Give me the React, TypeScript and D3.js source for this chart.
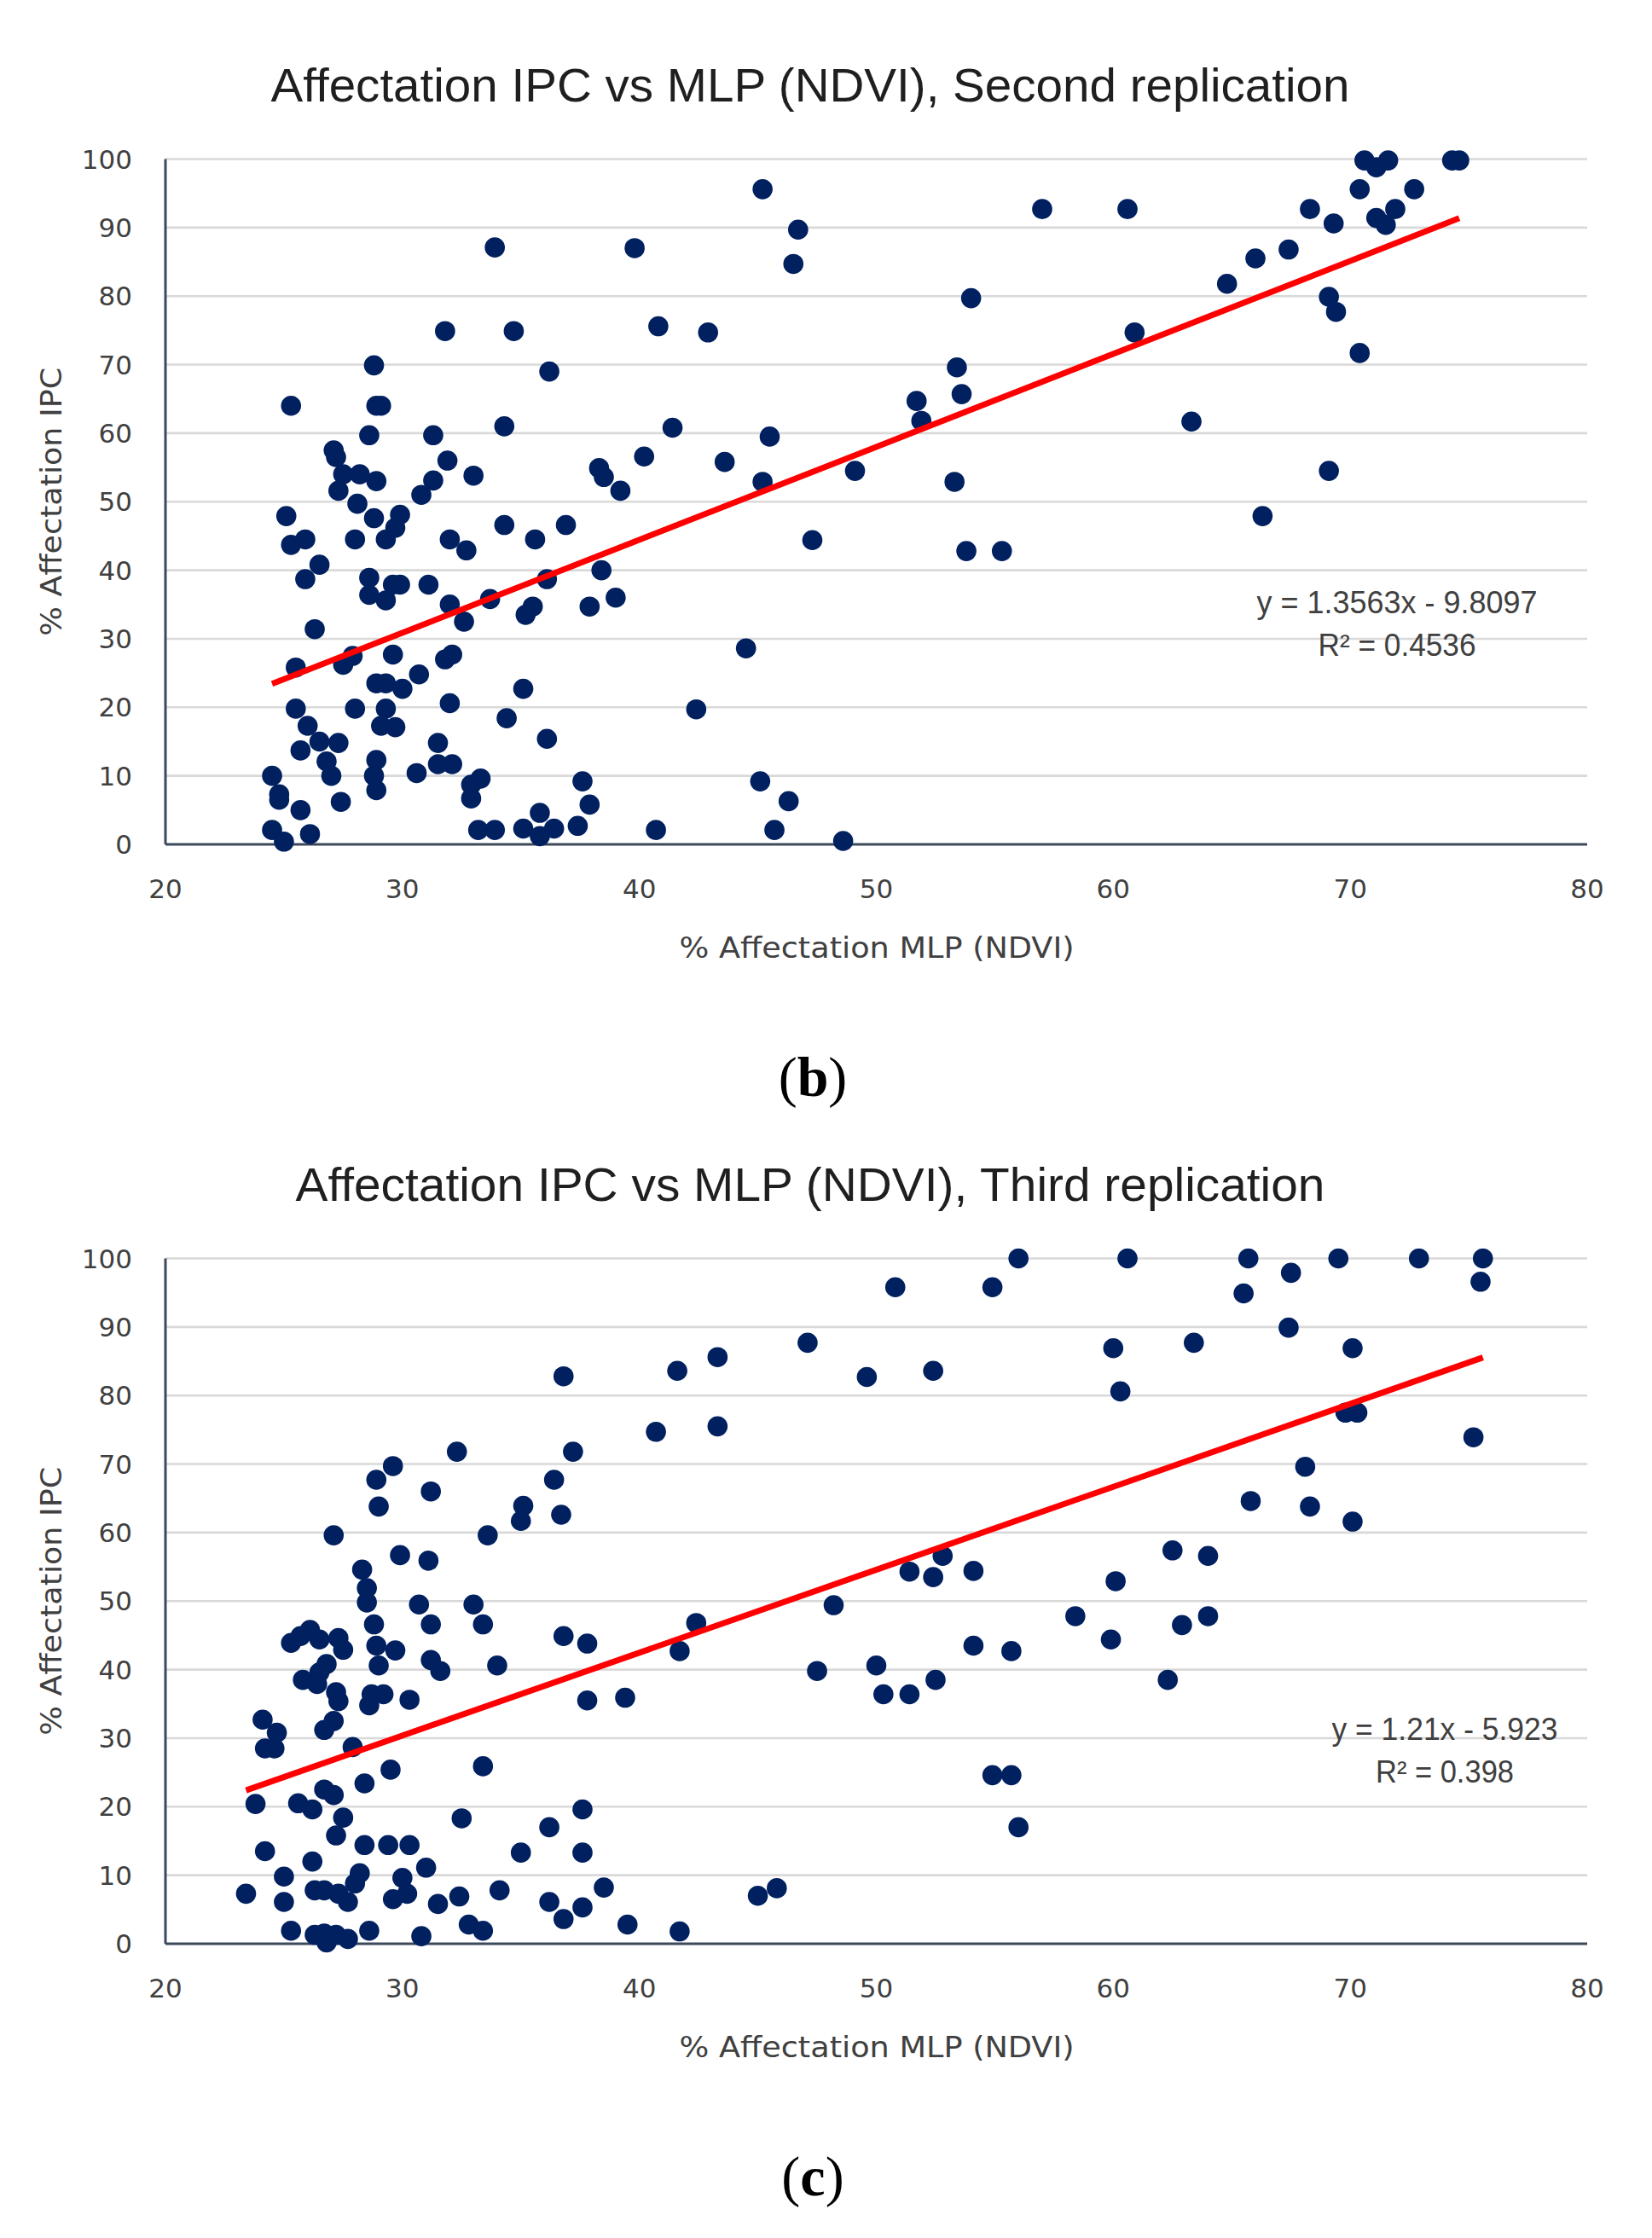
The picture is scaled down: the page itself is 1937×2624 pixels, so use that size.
import React from "react"
import * as d3 from "d3"

// % Affectation MLP (NDVI) , % Affectation IPC
const secondReplication: [number, number][] = [
  [33.9, 87.1], [39.8, 87.0], [31.8, 74.9], [34.7, 74.9], [28.8, 69.9], [36.2, 69.0],
  [25.3, 64.0], [28.9, 64.0], [29.1, 64.0], [34.3, 61.0], [28.6, 59.7], [31.3, 59.7],
  [27.1, 57.5], [27.2, 56.5], [31.9, 56.0], [33.0, 53.8], [38.3, 54.9], [38.5, 53.6],
  [39.2, 51.6], [27.5, 54.0], [28.2, 54.0], [28.9, 53.0], [27.3, 51.6], [31.3, 53.1],
  [30.8, 51.0], [40.2, 56.6],
  [25.1, 47.9], [28.1, 49.7], [28.8, 47.6], [29.9, 48.1], [29.7, 46.2], [29.3, 44.5],
  [28.0, 44.5], [25.9, 44.5], [25.3, 43.7], [32.0, 44.5], [32.7, 42.9], [34.3, 46.6],
  [35.6, 44.5], [36.9, 46.6], [26.5, 40.8], [25.9, 38.7], [28.6, 38.9], [28.6, 36.4],
  [29.3, 35.6], [29.9, 37.9], [29.6, 37.9], [31.1, 37.9], [32.0, 35.0], [32.6, 32.5],
  [33.7, 35.8], [36.1, 38.7], [35.5, 34.7], [35.2, 33.5], [38.4, 40.0], [37.9, 34.7],
  [39.0, 36.0], [26.3, 31.4], [25.5, 25.8], [27.5, 26.2], [27.9, 27.5], [29.6, 27.7],
  [31.8, 27.0], [32.1, 27.7], [28.9, 23.5], [29.3, 23.5], [30.0, 22.7], [30.7, 24.8],
  [35.1, 22.7], [25.5, 19.8], [28.0, 19.8], [29.3, 19.8], [32.0, 20.6], [26.0, 17.3],
  [29.1, 17.3], [29.7, 17.1], [34.4, 18.4], [36.1, 15.4], [27.3, 14.8], [26.5, 15.0],
  [25.7, 13.7], [31.5, 14.8], [26.8, 12.1], [28.9, 12.3], [31.5, 11.7], [32.1, 11.7],
  [27.0, 10.0], [28.8, 10.0], [30.6, 10.4], [24.5, 10.0], [33.3, 9.6], [32.9, 8.7],
  [37.6, 9.2], [24.8, 7.3], [24.8, 6.5], [28.9, 7.9], [32.9, 6.7], [27.4, 6.2],
  [25.7, 5.0], [37.9, 5.8], [35.8, 4.6], [24.5, 2.1], [25.0, 0.4], [26.1, 1.5],
  [33.2, 2.1], [33.9, 2.1], [35.1, 2.3], [36.4, 2.3], [35.8, 1.2], [37.4, 2.7],
  [40.8, 75.6], [42.9, 74.7], [41.4, 60.8], [45.5, 59.5], [43.6, 55.8], [45.2, 52.9],
  [49.1, 54.5], [53.3, 52.9], [47.3, 44.4], [53.8, 42.8], [55.3, 42.8], [44.5, 28.6],
  [42.4, 19.7], [45.1, 9.2], [46.3, 6.3], [40.7, 2.1], [45.7, 2.1], [48.6, 0.5],
  [45.2, 95.6], [46.7, 89.7], [46.5, 84.7], [57.0, 92.7], [60.6, 92.7], [54.0, 79.7],
  [53.4, 69.6], [53.6, 65.7], [51.7, 64.7], [51.9, 61.8], [63.3, 61.7], [60.9, 74.7],
  [64.8, 81.8], [66.0, 85.5], [67.4, 86.8], [68.3, 92.7], [69.3, 90.6], [70.4, 95.6],
  [72.7, 95.6], [70.6, 99.8], [71.1, 98.8], [71.6, 99.8], [74.3, 99.8], [74.6, 99.8],
  [71.1, 91.4], [71.5, 90.4], [71.9, 92.7], [69.1, 79.9], [69.4, 77.7], [70.4, 71.7],
  [69.1, 54.5], [66.3, 47.9],
]

const thirdReplication: [number, number][] = [
  [36.8, 82.8], [37.2, 71.8], [32.3, 71.8], [29.6, 69.7], [28.9, 67.7], [31.2, 66.0],
  [29.0, 63.8], [36.4, 67.7], [35.1, 63.9], [35.0, 61.7], [36.7, 62.6], [27.1, 59.6],
  [33.6, 59.6], [29.9, 56.7], [31.1, 55.9], [28.3, 54.6], [28.5, 51.9],
  [28.5, 49.8], [30.7, 49.5], [33.0, 49.5], [28.8, 46.6], [31.2, 46.6], [33.4, 46.6],
  [26.1, 45.8], [25.3, 43.9], [25.7, 44.9], [26.5, 44.4], [27.3, 44.6], [27.5, 42.9],
  [28.9, 43.5], [29.7, 42.8], [34.0, 40.6], [31.2, 41.4], [31.6, 39.8], [36.8, 44.9],
  [37.8, 43.8], [29.0, 40.6], [26.8, 40.8], [26.5, 39.6], [25.8, 38.5], [26.4, 37.9],
  [27.2, 36.7], [27.3, 35.4], [28.7, 36.4], [29.2, 36.4], [28.6, 34.8], [30.3, 35.6],
  [37.8, 35.5], [39.4, 35.9], [24.1, 32.7], [24.7, 30.8], [24.6, 28.5], [24.2, 28.5],
  [27.1, 32.5], [26.7, 31.2], [27.9, 28.7], [29.5, 25.4], [33.4, 25.9], [28.4, 23.4],
  [26.7, 22.5], [27.1, 21.7], [23.8, 20.4], [25.6, 20.5], [26.2, 19.6], [27.5, 18.4],
  [32.5, 18.3], [37.6, 19.6], [36.2, 17.0], [27.2, 15.8], [28.4, 14.4], [29.4, 14.4],
  [30.3, 14.4], [35.0, 13.3], [37.6, 13.3], [24.2, 13.5], [26.2, 12.0], [31.0, 11.1],
  [25.0, 9.8], [28.2, 10.3], [30.0, 9.6], [28.0, 8.8], [23.4, 7.3], [26.3, 7.8],
  [26.7, 7.8], [27.3, 7.3], [27.7, 6.1], [30.2, 7.3], [29.6, 6.5], [25.0, 6.1],
  [31.5, 5.8], [32.4, 6.9], [34.1, 7.8], [38.5, 8.2], [36.2, 6.1], [37.6, 5.3],
  [36.8, 3.6], [39.5, 2.8], [25.3, 1.9], [26.3, 1.3], [26.7, 1.5], [27.2, 1.3],
  [27.7, 0.7], [26.8, 0.2], [28.6, 1.9], [30.8, 1.1], [32.8, 2.8], [33.4, 1.9],
  [56.0, 100], [60.6, 100], [65.7, 100], [69.5, 100], [72.9, 100], [75.6, 100],
  [75.5, 96.6], [67.5, 97.9], [65.5, 94.9], [50.8, 95.8], [54.9, 95.8], [67.4, 89.9],
  [63.4, 87.7], [60.0, 86.9], [70.1, 86.9], [60.3, 80.6], [47.1, 87.7], [43.3, 85.6],
  [41.6, 83.6], [49.6, 82.7], [52.4, 83.6], [40.7, 74.7], [43.3, 75.5], [69.8, 77.5],
  [70.3, 77.5], [75.2, 73.9], [68.1, 69.6], [65.8, 64.6], [68.3, 63.8], [70.1, 61.6],
  [62.5, 57.4], [64.0, 56.6], [52.8, 56.6], [51.4, 54.3], [52.4, 53.5], [54.1, 54.4],
  [60.1, 52.9], [48.2, 49.4], [58.4, 47.8], [64.0, 47.8], [62.9, 46.5], [42.4, 46.8],
  [41.7, 42.7], [59.9, 44.4], [54.1, 43.5], [55.7, 42.7], [47.5, 39.8], [50.0, 40.6],
  [50.3, 36.4], [51.4, 36.4], [52.5, 38.5], [62.3, 38.5], [54.9, 24.6], [55.7, 24.6],
  [56.0, 17.0], [45.0, 7.0], [45.8, 8.1], [41.7, 1.8],
]

const xTicks = [20, 30, 40, 50, 60, 70, 80]
const yTicks = [0, 10, 20, 30, 40, 50, 60, 70, 80, 90, 100]

const dotColor = "#002060"
const gridColor = "#d9d9d9"
const axisColor = "#3d4a5c"
const labelColor = "#404040"
const tickFont = "DejaVu Sans, Verdana, sans-serif"
const narrowFont = "Liberation Sans Narrow, Liberation Sans, Arial, sans-serif"

interface PanelProps {
  top: number
  title: string
  titleWidth: number
  points: [number, number][]
  slope: number
  intercept: number
  equation: string
  r2: string
  eq: { x: number; y: number; w: number; r2w: number }
  letter: string
}

const Panel: React.FC<PanelProps> = ({ top, title, titleWidth, points, slope, intercept, equation, r2, eq, letter }) => {
  const plotH = 803.5
  const bottom = top + plotH
  const x = d3.scaleLinear().domain([20, 80]).range([194, 1861])
  const y = d3.scaleLinear().domain([0, 100]).range([bottom, top])

  const [xMin, xMax] = d3.extent(points, p => p[0]) as [number, number]
  const trend = d3.line<number>()
    .x(v => x(v))
    .y(v => y(slope * v + intercept))

  return (
    <g>
      <text x={950} y={top - 68} textAnchor="middle" fontFamily={narrowFont} fontSize={55}
        fill="#1f1f1f" textLength={titleWidth} lengthAdjust="spacingAndGlyphs">{title}</text>

      {/* grid */}
      {yTicks.filter(t => t > 0).map(t => (
        <line key={t} x1={x(20)} x2={x(80)} y1={y(t)} y2={y(t)} stroke={gridColor} strokeWidth={2.6} />
      ))}
      <line x1={x(20)} x2={x(20)} y1={y(100)} y2={y(0)} stroke={axisColor} strokeWidth={3} />
      <line x1={x(20)} x2={x(80)} y1={y(0)} y2={y(0)} stroke={axisColor} strokeWidth={3} />

      {yTicks.map(t => (
        <text key={t} x={155} y={y(t)} dy="0.36em" textAnchor="end" fontFamily={tickFont}
          fontSize={31} fill={labelColor}>{t}</text>
      ))}
      {xTicks.map(t => (
        <text key={t} x={x(t)} y={bottom + 63} textAnchor="middle" fontFamily={tickFont}
          fontSize={31} fill={labelColor}>{t}</text>
      ))}

      <text transform={`translate(60,${(top + bottom) / 2}) rotate(-90)`} dy="0.36em" textAnchor="middle"
        fontFamily={tickFont} fontSize={34} fill={labelColor} textLength={315}
        lengthAdjust="spacingAndGlyphs">% Affectation IPC</text>
      <text x={1028} y={bottom + 133} textAnchor="middle" fontFamily={tickFont} fontSize={34}
        fill={labelColor} textLength={463} lengthAdjust="spacingAndGlyphs">% Affectation MLP (NDVI)</text>

      {points.map((p, i) => (
        <circle key={i} cx={x(p[0])} cy={y(p[1])} r={11.8} fill={dotColor} />
      ))}

      <path d={trend([xMin, xMax]) ?? ""} stroke="#ff0000" strokeWidth={7} fill="none" />

      <text x={eq.x} y={top + eq.y} textAnchor="middle" fontFamily={narrowFont} fontSize={36}
        fill={labelColor} textLength={eq.w} lengthAdjust="spacingAndGlyphs">{equation}</text>
      <text x={eq.x} y={top + eq.y + 50} textAnchor="middle" fontFamily={narrowFont} fontSize={36}
        fill={labelColor} textLength={eq.r2w} lengthAdjust="spacingAndGlyphs">{r2}</text>

      <text x={953} y={bottom + 295} textAnchor="middle" fontFamily="Liberation Serif, Times New Roman, serif"
        fontSize={66} fill="#000">(<tspan fontWeight="bold">{letter}</tspan>)</text>
    </g>
  )
}

export default function App() {
  return (
    <svg width={1937} height={2624} viewBox="0 0 1937 2624"
      style={{ position: "absolute", left: 0, top: 0, background: "#fff" }}>
      <rect width={1937} height={2624} fill="#fff" />
      <Panel top={186.5} title="Affectation IPC vs MLP (NDVI), Second replication" titleWidth={1265}
        points={secondReplication} slope={1.3563} intercept={-9.8097}
        equation="y = 1.3563x - 9.8097" r2="R² = 0.4536"
        eq={{ x: 1638, y: 532, w: 329, r2w: 185 }} letter="b" />
      <Panel top={1475.5} title="Affectation IPC vs MLP (NDVI), Third replication" titleWidth={1207}
        points={thirdReplication} slope={1.21} intercept={-5.923}
        equation="y = 1.21x - 5.923" r2="R² = 0.398"
        eq={{ x: 1694, y: 564, w: 265, r2w: 162 }} letter="c" />
    </svg>
  )
}
